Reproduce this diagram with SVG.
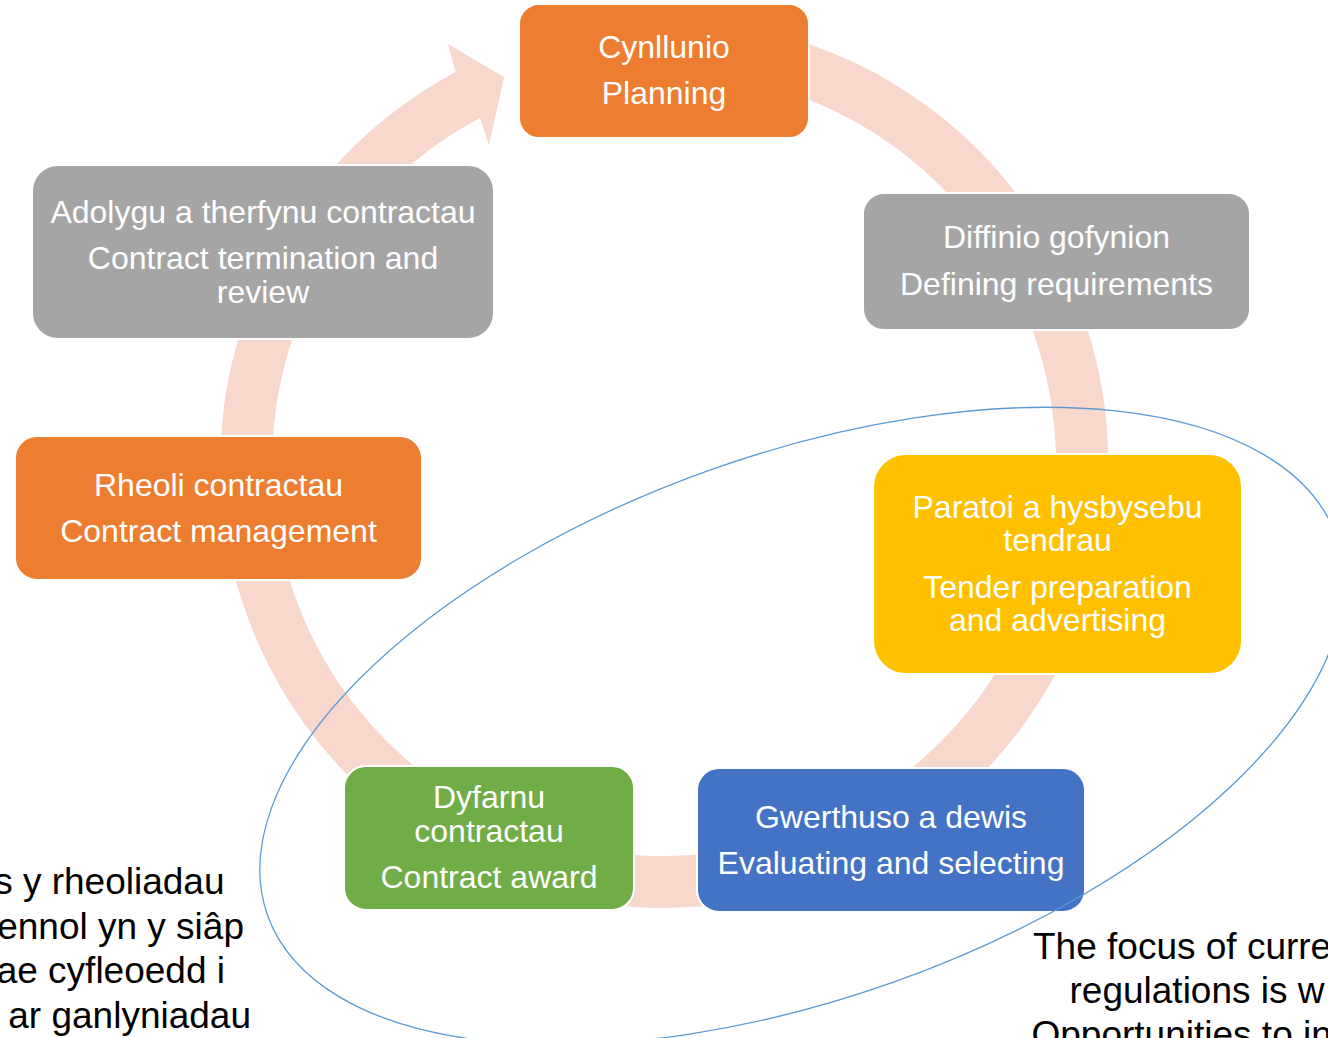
<svg xmlns="http://www.w3.org/2000/svg" width="1328" height="1038" viewBox="0 0 1328 1038">
<style>
.box{stroke:#ffffff;stroke-width:2}
.orange{fill:#ED7D31}.grey{fill:#A5A5A5}.yellow{fill:#FFC000}.blue{fill:#4472C4}.green{fill:#70AD47}
.lbl{font-family:"Liberation Sans",Arial,sans-serif;font-size:32px;fill:#ffffff;text-anchor:middle}
.note{font-family:"Liberation Sans",Arial,sans-serif;font-size:37px;fill:#000000}
</style>
<rect width="1328" height="1038" fill="#ffffff"/>
<g id="connectors">
<path d="M 549.1 35.1 A 444 444 0 1 1 455.6 72.0 L 448 44 L 504 77 L 489 145 L 480.0 117.9 A 392 392 0 1 0 562.5 85.4 Z" fill="#F8D7CD"/>
</g>
<g id="node-planning">
<rect class="box orange" x="519" y="4" width="290" height="134" rx="20"/>
<text class="lbl" x="664" y="58">Cynllunio</text>
<text class="lbl" x="664" y="104">Planning</text>
</g>
<g id="node-defining">
<rect class="box grey" x="863" y="193" width="387" height="137" rx="21"/>
<text class="lbl" x="1056.5" y="248">Diffinio gofynion</text>
<text class="lbl" x="1056.5" y="295">Defining requirements</text>
</g>
<g id="node-tender">
<rect class="box yellow" x="873" y="454" width="369" height="220" rx="33"/>
<text class="lbl" x="1057.5" y="518">Paratoi a hysbysebu</text>
<text class="lbl" x="1057.5" y="551">tendrau</text>
<text class="lbl" x="1057.5" y="598">Tender preparation</text>
<text class="lbl" x="1057.5" y="631">and advertising</text>
</g>
<g id="node-evaluating">
<rect class="box blue" x="697" y="768" width="388" height="144" rx="22"/>
<text class="lbl" x="891" y="828">Gwerthuso a dewis</text>
<text class="lbl" x="891" y="874">Evaluating and selecting</text>
</g>
<g id="node-award">
<rect class="box green" x="344" y="766" width="290" height="144" rx="22"/>
<text class="lbl" x="489" y="808">Dyfarnu</text>
<text class="lbl" x="489" y="842">contractau</text>
<text class="lbl" x="489" y="888">Contract award</text>
</g>
<g id="node-management">
<rect class="box orange" x="15" y="436" width="407" height="144" rx="22"/>
<text class="lbl" x="218.5" y="496">Rheoli contractau</text>
<text class="lbl" x="218.5" y="542">Contract management</text>
</g>
<g id="node-review">
<rect class="box grey" x="32" y="165" width="462" height="174" rx="26"/>
<text class="lbl" x="263" y="223">Adolygu a therfynu contractau</text>
<text class="lbl" x="263" y="269">Contract termination and</text>
<text class="lbl" x="263" y="303">review</text>
</g>
<g id="focus-ellipse">
<ellipse cx="802" cy="726" rx="567" ry="272" transform="rotate(-19.5 802 726)" fill="none" stroke="#5B9BD5" stroke-width="1.3"/>
</g>
<g id="notes">
<text class="note" x="224.5" y="894" text-anchor="end">s y rheoliadau</text>
<text class="note" x="244" y="938.5" text-anchor="end">ennol yn y siâp</text>
<text class="note" x="225" y="983" text-anchor="end">ae cyfleoedd i</text>
<text class="note" x="251" y="1027.5" text-anchor="end">ar ganlyniadau</text>
<text class="note" x="1033" y="959">The focus of curre</text>
<text class="note" x="1069.5" y="1003">regulations is w</text>
<text class="note" x="1031.5" y="1047">Opportunities to in</text>
</g>
</svg>
